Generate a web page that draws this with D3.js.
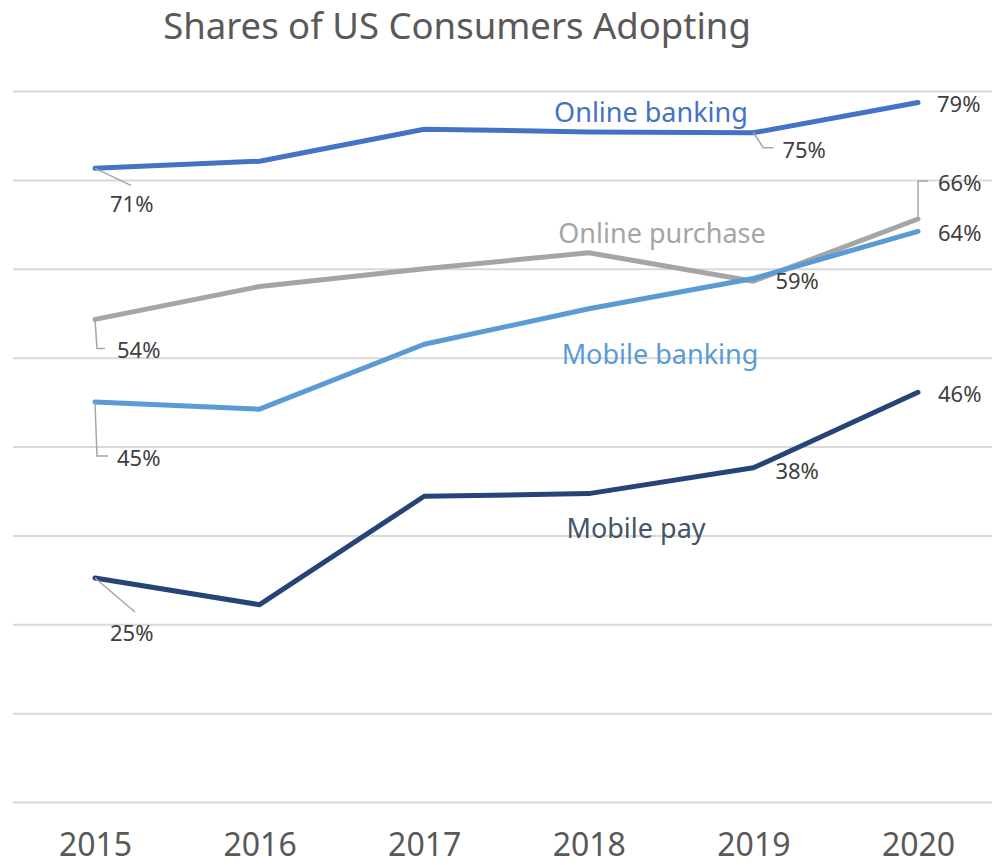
<!DOCTYPE html>
<html>
<head>
<meta charset="utf-8">
<script src="https://cdn.jsdelivr.net/npm/d3@7"></script>
<style>
  body { margin: 0; background: #fff; }
  svg { display: block; font-family: "Noto Sans", "Open Sans", sans-serif; }
</style>
</head>
<body>
<div id="chart"></div>
<script>
// data (percent of US consumers)
const years = [2015, 2016, 2017, 2018, 2019, 2020];
const onlineBanking  = [71.3, 72.1, 75.7, 75.4, 75.3, 78.7];
const onlinePurchase = [54.3, 58.0, 60.0, 61.8, 58.6, 65.6];
const mobileBanking  = [45.0, 44.2, 51.5, 55.5, 58.9, 64.2];
const mobilePay      = [25.2, 22.2, 34.4, 34.7, 37.6, 46.1];
const yTicks = [0, 10, 20, 30, 40, 50, 60, 70, 80];

const series = [
    {name: 'Online banking',  values: onlineBanking,  colour: '#4472c4', label: {x: 651, y: 122}},
    {name: 'Online purchase', values: onlinePurchase, colour: '#a5a5a5', label: {x: 662, y: 243}},
    {name: 'Mobile banking',  values: mobileBanking,  colour: '#5b9bd5', label: {x: 660, y: 364}},
    {name: 'Mobile pay',      values: mobilePay,      colour: '#264478', label: {x: 636, y: 538}, text: '#44546a'}
];

// which points carry a data label, and where the label sits relative to the point
const dataLabels = [
    {s: 0, i: 0, dx: 15, dy: 35, leader: [[36, 17]]},
    {s: 0, i: 4, dx: 29, dy: 16, leader: [[10, 15], [20, 15]]},
    {s: 0, i: 5, dx: 19, dy: 0},
    {s: 1, i: 0, dx: 22, dy: 30, leader: [[2, 29], [10, 29]]},
    {s: 1, i: 4, dx: 22, dy: -1},
    {s: 1, i: 5, dx: 20, dy: -37, leader: [[0, -38], [10, -38]]},
    {s: 2, i: 0, dx: 22, dy: 55, leader: [[2, 54], [13, 54]]},
    {s: 2, i: 5, dx: 20, dy: 1},
    {s: 3, i: 0, dx: 15, dy: 54, leader: [[40, 34]]},
    {s: 3, i: 4, dx: 22, dy: 2},
    {s: 3, i: 5, dx: 20, dy: 1}
];

const width = 992, height = 865;

var xScale = d3.scalePoint()
    .domain(years)
    .range([95, 918]);

var yScale = d3.scaleLinear()
    .domain([0, 80])
    .range([802, 91]);

var svg = d3.select('#chart')
    .append('svg')
    .attr('width', width)
    .attr('height', height);

// title
svg.append('text')
    .attr('x', 457)
    .attr('y', 39)
    .attr('text-anchor', 'middle')
    .attr('fill', '#595959')
    .attr('font-size', 36.5)
    .text('Shares of US Consumers Adopting');

// horizontal gridlines
svg.append('g')
    .attr('class', 'grid')
    .attr('transform', 'translate(13, 0)')
    .call(d3.axisLeft(yScale).tickValues(yTicks).tickSize(-(width - 13)).tickFormat(''))
    .call(g => g.select('.domain').remove())
    .call(g => g.selectAll('line').attr('stroke', '#d9d9d9').attr('stroke-width', 2));

// year axis, labels only
svg.append('g')
    .attr('transform', 'translate(0, 802)')
    .call(d3.axisBottom(xScale).tickSize(0).tickPadding(31))
    .call(g => g.select('.domain').remove())
    .call(g => g.selectAll('text')
        .attr('font-family', '"Noto Sans", sans-serif')
        .attr('font-size', 32)
        .attr('fill', '#595959'));

var line = d3.line()
    .x((d, i) => xScale(years[i]))
    .y(d => yScale(d));

var lines = svg.append('g').attr('class', 'data');
series.forEach(function(s) {
    lines.append('path')
        .datum(s.values)
        .attr('d', line)
        .attr('fill', 'none')
        .attr('stroke', s.colour)
        .attr('stroke-width', 5)
        .attr('stroke-linecap', 'round')
        .attr('stroke-linejoin', 'round');
});

// leader lines and data labels
var labels = svg.append('g').attr('class', 'labels');
dataLabels.forEach(function(l) {
    var px = xScale(years[l.i]);
    var py = yScale(series[l.s].values[l.i]);
    if (l.leader) {
        var pts = [[px, py]].concat(l.leader.map(p => [px + p[0], py + p[1]]));
        labels.append('path')
            .attr('d', d3.line()(pts))
            .attr('fill', 'none')
            .attr('stroke', '#a6a6a6')
            .attr('stroke-width', 1.5);
    }
    labels.append('text')
        .attr('x', px + l.dx)
        .attr('y', py + l.dy)
        .attr('dominant-baseline', 'central')
        .attr('fill', '#404040')
        .attr('font-size', 22)
        .text(Math.round(series[l.s].values[l.i]) + '%');
});

// series names
series.forEach(function(s) {
    svg.append('text')
        .attr('x', s.label.x)
        .attr('y', s.label.y)
        .attr('text-anchor', 'middle')
        .attr('fill', s.text || s.colour)
        .attr('font-size', 27)
        .text(s.name);
});
</script>
</body>
</html>
